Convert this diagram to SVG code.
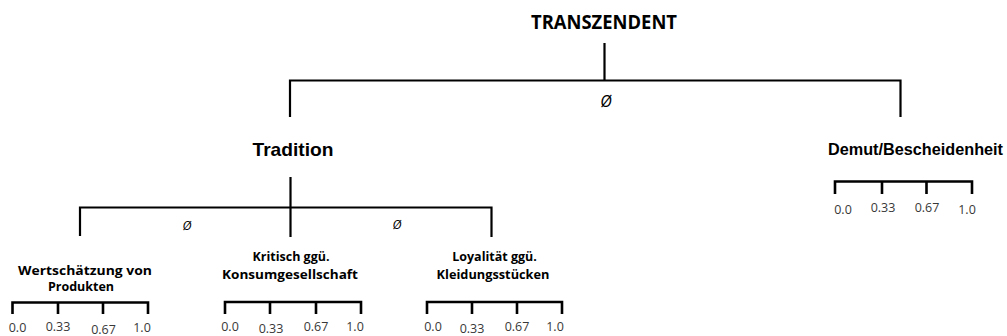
<svg xmlns="http://www.w3.org/2000/svg" width="1007" height="336" viewBox="0 0 1007 336">
<style>
.ln{stroke:#000;stroke-width:2.2;fill:none;stroke-linecap:square}
.sc{stroke:#000;stroke-width:2.6;fill:none;stroke-linecap:butt}
.top{font-family:"Open Sans",sans-serif;font-weight:bold;font-size:19px;fill:#000;text-anchor:middle}
.l1{font-family:"Liberation Sans",Arial,sans-serif;font-weight:bold;fill:#000}
.l2{font-family:"Open Sans",sans-serif;font-weight:bold;font-size:12.5px;fill:#000;text-anchor:middle}
.num{font-family:"Open Sans",sans-serif;font-size:12.5px;fill:#383838;text-anchor:middle}
.phi{font-family:"Open Sans",sans-serif;font-style:italic;fill:#000;text-anchor:middle}
</style>
<rect width="1007" height="336" fill="#fff"/>
<g id="connectors">
<path class="ln" d="M604.5 44V80.5M290 116V80.5H900.5V116"/>
<path class="ln" d="M290.5 178V236M80 235V207.5H491.5V236"/>
</g>
<g id="labels-phi">
<text class="phi" x="606" y="107" font-size="16">Ø</text>
<text class="phi" x="187" y="230" font-size="12.5">Ø</text>
<text class="phi" x="397" y="229" font-size="12.5">Ø</text>
</g>
<g id="node-transzendent">
<text class="top" x="604" y="29" textLength="146" lengthAdjust="spacingAndGlyphs">TRANSZENDENT</text>
</g>
<g id="node-tradition">
<text class="l1" x="293" y="156" font-size="18.5" text-anchor="middle" textLength="81" lengthAdjust="spacingAndGlyphs">Tradition</text>
</g>
<g id="node-demut">
<text class="l1" x="1003" y="155" font-size="16.5" text-anchor="end" textLength="175" lengthAdjust="spacingAndGlyphs">Demut/Bescheidenheit</text>
<path class="sc" d="M835 194V181.5H972V194M882 181.5V194M926.5 181.5V194"/>
<text class="num" x="843" y="214">0.0</text>
<text class="num" x="883" y="212">0.33</text>
<text class="num" x="927" y="212">0.67</text>
<text class="num" x="967" y="214">1.0</text>
</g>
<g id="node-wertschaetzung">
<text class="l2" x="85" y="275" textLength="134" lengthAdjust="spacingAndGlyphs">Wertschätzung von</text>
<text class="l2" x="81" y="291">Produkten</text>
<path class="sc" d="M12.5 314V302.5H148V314M58 302.5V314M103 302.5V314"/>
<text class="num" x="17.5" y="332">0.0</text>
<text class="num" x="58" y="331">0.33</text>
<text class="num" x="103.5" y="334">0.67</text>
<text class="num" x="142" y="332">1.0</text>
</g>
<g id="node-kritisch">
<text class="l2" x="291" y="261">Kritisch ggü.</text>
<text class="l2" x="290" y="279" textLength="136" lengthAdjust="spacingAndGlyphs">Konsumgesellschaft</text>
<path class="sc" d="M225 314V302H361V314M270 302V314M316 302V314"/>
<text class="num" x="230" y="331">0.0</text>
<text class="num" x="271" y="333">0.33</text>
<text class="num" x="316" y="331">0.67</text>
<text class="num" x="355" y="331">1.0</text>
</g>
<g id="node-loyalitaet">
<text class="l2" x="494.5" y="261">Loyalität ggü.</text>
<text class="l2" x="493" y="279" textLength="113" lengthAdjust="spacingAndGlyphs">Kleidungsstücken</text>
<path class="sc" d="M427 314V302H562V314M472 302V314M517 302V314"/>
<text class="num" x="433" y="331">0.0</text>
<text class="num" x="472" y="333">0.33</text>
<text class="num" x="517" y="331">0.67</text>
<text class="num" x="555" y="331">1.0</text>
</g>
</svg>
